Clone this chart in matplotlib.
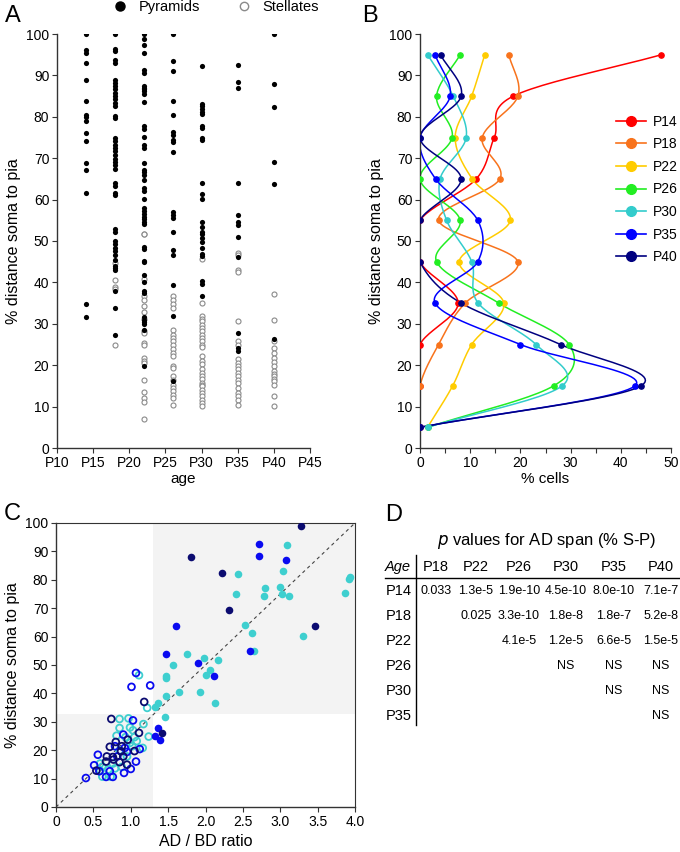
import numpy as np
import matplotlib
matplotlib.use("Agg")
import matplotlib.pyplot as plt
from matplotlib.lines import Line2D

plt.rcParams['font.family'] = ['Liberation Sans', 'DejaVu Sans']

# ---------------- Panel A data: soma depth (% distance soma to pia) by age
ages = [14, 18, 22, 26, 30, 35, 40]
pyr = {
    14: [100, 96.2, 95.4, 93, 89, 83.8, 80.5, 80, 79.1, 76, 74.2, 68.8, 67.1, 61.7, 34.9, 31.6],
    18: [100, 96.4, 96, 93.6, 93, 89, 88.2, 87.4, 86.6, 85.8, 85, 84.2, 83.4, 82.6, 80.3, 79.7,
         75, 74.2, 73.3, 72.5, 71.7, 70.8, 69.9, 69.1, 68.3, 67.5, 64, 63.3, 61.5, 61, 53, 52.2,
         50, 49.2, 48.4, 47.6, 46.5, 45.3, 44, 43.5, 43, 37.9, 33.7, 27.4],
    22: [100, 98.8, 97.4, 95.4, 91.2, 90.5, 87.5, 87, 86.6, 86.3, 85.5, 83.6, 77.7, 77, 75.2,
         73.3, 72.5, 68.9, 67.1, 66.6, 66, 64.7, 62.7, 62, 60.2, 58, 57.2, 56.5, 55.8, 55.2,
         54.7, 54, 48.6, 48.1, 45.2, 45, 41.7, 40.1, 37.9, 37.5, 31.7, 31, 30.4, 29.9, 28.6, 19.8],
    26: [100, 93.4, 91, 83.7, 80.5, 76.3, 75.6, 74.4, 73.9, 71.4, 57, 56.4, 55.6, 52.2, 47.8,
         46.5, 39.3, 32, 16.3],
    30: [92.3, 83.2, 82.5, 81.9, 81.1, 80.6, 77.8, 77.2, 75, 74.3, 64, 61.3, 60.1, 54.7, 53.5,
         52.2, 51.6, 50.7, 49.8, 48.4, 46.8, 46.4, 40.3, 39.5, 36.7],
    35: [92.6, 88.3, 87, 64, 56.3, 54.7, 53.8, 50.9, 46.1, 27.8, 24.1, 23.4],
    40: [100, 88, 82.4, 69.2, 63.8, 26.4],
}
stel = {
    14: [],
    18: [44.8, 40.5, 38.9, 38.3, 25],
    22: [51.7, 51.6, 40.9, 36.7, 35.7, 34.4, 32.8, 31.2, 28.2, 27.7, 25.4, 25, 21.8, 21.1,
         20.6, 16.4, 13.5, 12.1, 11.1, 6.9],
    26: [36.7, 35.7, 34.9, 33.9, 28.6, 27.2, 26.6, 25.8, 25, 23.8, 23, 22.2, 19.8, 19.4, 17.3,
         16.5, 15.3, 14.5, 13.7, 12.9, 12.1, 10.5],
    30: [45.6, 35.1, 32, 31.2, 30.6, 29.8, 29, 28.2, 27.4, 26.6, 25.8, 25, 24.4, 22.2, 21,
         20.2, 19, 18.2, 17.4, 16.6, 15.8, 15.3, 14.9, 14.1, 13.3, 12.5, 11.7, 10.9, 10.1],
    35: [47, 46.5, 43, 42.5, 30.6, 25.8, 25, 21.5, 20.6, 19.8, 19, 18.1, 17.3, 16.5, 15.7,
         14.5, 13.3, 12.5, 11.7, 10.5],
    40: [37.1, 31, 25.8, 24.2, 23, 21.8, 20.7, 19.8, 18.5, 17.9, 17.3, 16.7, 16.1, 15.1, 12.5, 10.2],
}

# ---------------- Panel B data: % cells per depth bin
bins = [5, 15, 25, 35, 45, 55, 65, 75, 85, 95]
b_labels = ['P14', 'P18', 'P22', 'P26', 'P30', 'P35', 'P40']
b_colors = ['#ff0000', '#f8731c', '#ffcc00', '#22ee22', '#33cccc', '#0000ff', '#000080']
pct = {
    'P14': [0, 0, 0, 7.6, 0, 0, 11.2, 14.8, 18.6, 48.1],
    'P18': [0, 0, 3.7, 9.0, 19.5, 3.7, 15.9, 12.4, 19.5, 17.7],
    'P22': [1.5, 6.5, 10.3, 16.7, 7.8, 18.0, 10.4, 7.0, 10.3, 12.9],
    'P26': [1.5, 26.6, 29.7, 15.7, 3.3, 8.0, 0, 6.4, 3.3, 8.0],
    'P30': [1.5, 28.3, 23.1, 11.6, 10.3, 5.3, 4.0, 9.2, 6.6, 1.5],
    'P35': [0, 42.8, 20.0, 3.0, 11.5, 11.5, 3.1, 0, 6.0, 3.0],
    'P40': [0, 44.0, 28.0, 8.2, 0, 0, 8.2, 0, 8.2, 4.1],
}

# ---------------- Panel C data: AD/BD ratio vs depth (filled = pyramids, open = stellates)
c_colors = {'P30': '#3ecfcf', 'P35': '#0a0af0', 'P40': '#0b0b70'}
c_filled = {
    'P30': ([3.09, 3.04, 2.44, 2.41, 2.80, 2.78, 3.00, 3.02, 3.12, 3.93, 3.92, 3.86, 2.53, 2.62,
             3.31, 2.65, 1.75, 1.56, 1.98, 2.17, 2.06, 2.01, 1.47, 1.47, 1.64, 1.92, 1.47, 2.13,
             1.36, 1.33, 1.46],
            [92.3, 83.2, 82.0, 75.0, 77.2, 74.2, 77.3, 75.0, 74.2, 81.0, 80.2, 75.2, 64.0, 61.2,
             60.3, 55.0, 54.0, 49.9, 52.3, 51.6, 48.4, 46.6, 46.0, 45.5, 40.4, 40.4, 39.2, 36.6,
             36.6, 35.2, 31.8]),
    'P35': ([2.71, 2.72, 3.08, 1.61, 1.47, 1.90, 2.12, 2.60, 1.37, 1.32, 1.39],
            [92.7, 88.3, 87.0, 63.8, 53.8, 50.8, 46.1, 54.8, 27.7, 25.1, 23.5]),
    'P40': ([3.28, 1.80, 2.22, 2.32, 3.46, 1.42],
            [99.1, 88.0, 82.4, 69.2, 63.8, 26.1]),
}
c_open = {
    'P30': ([1.11, 1.22, 0.85, 0.97, 0.85, 0.99, 1.17, 1.03, 0.81, 0.93, 1.05, 1.24, 1.16, 0.99,
             1.08, 0.85, 0.95, 0.62, 0.59, 0.70, 0.79, 0.73, 0.62, 1.02, 0.88, 0.76, 0.59],
            [46.4, 34.9, 31.0, 31.2, 27.8, 28.0, 29.2, 27.0, 25.1, 24.6, 24.6, 24.8, 20.8, 22.6,
             23.2, 19.9, 17.8, 14.2, 12.8, 13.2, 13.6, 10.7, 10.7, 21.4, 14.1, 15.3, 15.3]),
    'P35': ([1.07, 1.01, 1.26, 1.03, 0.90, 0.79, 0.92, 1.12, 0.56, 1.07, 0.51, 0.40, 0.58, 0.91,
             1.00, 0.67, 0.76, 0.72, 0.82, 0.95],
            [47.2, 42.3, 42.8, 30.5, 25.5, 21.4, 20.8, 20.4, 18.4, 16.0, 14.7, 10.2, 12.6, 12.0,
             13.4, 10.6, 10.6, 12.6, 17.8, 19.4]),
    'P40': ([1.18, 0.74, 1.11, 0.80, 0.96, 0.88, 1.05, 0.68, 0.76, 0.67, 0.77, 0.90, 0.85, 0.95,
             0.54, 0.87, 0.72],
            [37.0, 31.0, 26.1, 22.9, 23.7, 21.4, 19.7, 17.8, 17.6, 16.0, 16.7, 17.8, 15.8, 14.9,
             12.8, 19.6, 21.2]),
}

# ---------------- Panel D data: p values table
d_cols = ['P18', 'P22', 'P26', 'P30', 'P35', 'P40']
d_rows = ['P14', 'P18', 'P22', 'P26', 'P30', 'P35']
d_vals = [
    ['0.033', '1.3e-5', '1.9e-10', '4.5e-10', '8.0e-10', '7.1e-7'],
    ['', '0.025', '3.3e-10', '1.8e-8', '1.8e-7', '5.2e-8'],
    ['', '', '4.1e-5', '1.2e-5', '6.6e-5', '1.5e-5'],
    ['', '', '', 'NS', 'NS', 'NS'],
    ['', '', '', '', 'NS', 'NS'],
    ['', '', '', '', '', 'NS'],
]


def catmull_rom(xs, ys, n=24):
    # smooth curve through the points (only used to draw the line)
    p = np.column_stack([xs, ys]).astype(float)
    p = np.vstack([2 * p[0] - p[1], p, 2 * p[-1] - p[-2]])
    out = []
    t = np.linspace(0, 1, n)[:, None]
    for i in range(1, len(p) - 2):
        p0, p1, p2, p3 = p[i - 1], p[i], p[i + 1], p[i + 2]
        seg = 0.5 * ((2 * p1) + (-p0 + p2) * t + (2 * p0 - 5 * p1 + 4 * p2 - p3) * t ** 2
                     + (-p0 + 3 * p1 - 3 * p2 + p3) * t ** 3)
        out.append(seg)
    out = np.vstack(out)
    return out[:, 0], out[:, 1]


def style_axis(ax):
    for s in ['left', 'bottom']:
        ax.spines[s].set_color('#333333')
        ax.spines[s].set_linewidth(1.0)
    ax.tick_params(direction='out', length=3.5, width=0.8, color='#333333',
                   labelsize=10, pad=2)


W, H = 680, 852
fig = plt.figure(figsize=(W / 100, H / 100), dpi=100)


def box(l, t, r, b):
    return [l / W, 1 - b / H, (r - l) / W, (b - t) / H]


# ---------------- A
axA = fig.add_axes(box(57, 34, 310, 448))
for a in ages:
    if pyr[a]:
        axA.scatter([a] * len(pyr[a]), pyr[a], s=14, color='black', zorder=3, linewidths=0)
    if stel[a]:
        axA.scatter([a] * len(stel[a]), stel[a], s=13, facecolors='white',
                    edgecolors='#8a8a8a', linewidths=0.8, zorder=2)
axA.set_xlim(10, 45)
axA.set_ylim(0, 100)
axA.set_xticks(range(10, 50, 5))
axA.set_xticklabels(['P%d' % v for v in range(10, 50, 5)])
axA.set_yticks(range(0, 101, 10))
axA.spines['top'].set_visible(False)
axA.spines['right'].set_visible(False)
style_axis(axA)
axA.set_xlabel('age', fontsize=11, labelpad=2)
axA.set_ylabel('% distance soma to pia', fontsize=11.5, labelpad=4)

legA = [Line2D([], [], marker='o', ls='', color='black', markersize=6.5, label='Pyramids'),
        Line2D([], [], marker='o', ls='', markerfacecolor='white', markeredgecolor='#8a8a8a',
               markeredgewidth=1, markersize=6, label='Stellates')]
fig.legend(handles=legA, loc='center', bbox_to_anchor=(212 / W, 1 - 7 / H), ncol=2,
           frameon=False, fontsize=10.5, handletextpad=0.3, columnspacing=2.0, borderaxespad=0)

# ---------------- B
axB = fig.add_axes(box(420, 34, 671, 448))
for lab, col in zip(b_labels, b_colors):
    cx, cy = catmull_rom(pct[lab], bins)
    axB.plot(cx, cy, color=col, lw=1.1, zorder=2)
    axB.plot(pct[lab], bins, 'o', color=col, markersize=3.8, zorder=3)
axB.set_xlim(0, 50)
axB.set_ylim(0, 100)
axB.set_xticks(range(0, 51, 10))
axB.set_xticks(range(5, 50, 10), minor=True)
axB.set_yticks(range(0, 101, 10))
axB.spines['top'].set_visible(False)
axB.spines['right'].set_visible(False)
style_axis(axB)
axB.tick_params(which='minor', direction='out', length=3.5, width=0.8, color='#333333')
axB.set_xlabel('% cells', fontsize=11, labelpad=2)
axB.set_ylabel('% distance soma to pia', fontsize=11.5, labelpad=4)
legB = [Line2D([], [], color=c, lw=1.2, marker='o', markersize=7, label=l)
        for l, c in zip(b_labels, b_colors)]
axB.legend(handles=legB, loc='upper left', bbox_to_anchor=(610 / W, 1 - 109 / H),
           bbox_transform=fig.transFigure, frameon=False, fontsize=10, handlelength=2.2,
           handletextpad=0.5, labelspacing=0.62, borderaxespad=0)

# ---------------- C
axC = fig.add_axes(box(56, 523, 355, 807))
axC.fill_between([0, 1.3], 0, 32.7, color='#f3f3f3', lw=0, zorder=0)
axC.fill_between([1.3, 4.0], 32.7, 100, color='#f3f3f3', lw=0, zorder=0)
axC.plot([0, 4], [0, 100], ls=(0, (3, 3)), color='#444444', lw=0.8, zorder=1)
for k in ['P30', 'P35', 'P40']:
    ox, oy = c_open[k]
    axC.scatter(ox, oy, s=24, facecolors='none', edgecolors=c_colors[k], linewidths=1.3, zorder=2)
for k in ['P30', 'P35', 'P40']:
    fx, fy = c_filled[k]
    axC.scatter(fx, fy, s=30, color=c_colors[k], linewidths=0, zorder=3)
axC.set_xlim(0, 4)
axC.set_ylim(0, 100)
axC.set_xticks(np.arange(0, 4.01, 0.5))
axC.set_xticklabels(['0', '0.5', '1.0', '1.5', '2.0', '2.5', '3.0', '3.5', '4.0'])
axC.set_yticks(range(0, 101, 10))
for s in ['top', 'right']:
    axC.spines[s].set_color('#333333')
style_axis(axC)
axC.set_xlabel('AD / BD ratio', fontsize=11.5, labelpad=4)
axC.set_ylabel('% distance soma to pia', fontsize=11.5, labelpad=4)

# ---------------- D (table)
col_x = [436, 476, 519, 566, 614, 661]
row_y = [591, 616, 641, 666, 691, 716]
fig.text(547 / W, 1 - 541 / H, r'$\it{p}$' + ' values for AD span (% S-P)', ha='center',
         va='center', fontsize=12)
fig.text(398 / W, 1 - 567 / H, 'Age', ha='center', va='center', fontsize=10.5, style='italic')
for cx, c in zip(col_x, d_cols):
    fig.text(cx / W, 1 - 567 / H, c, ha='center', va='center', fontsize=10.5)
for ry, r, vals in zip(row_y, d_rows, d_vals):
    fig.text(399 / W, 1 - ry / H, r, ha='center', va='center', fontsize=10.5)
    for cx, v in zip(col_x, vals):
        if v:
            fig.text(cx / W, 1 - ry / H, v, ha='center', va='center', fontsize=9)
fig.add_artist(Line2D([385 / W, 680 / W], [1 - 578 / H, 1 - 578 / H], color='black', lw=1))
fig.add_artist(Line2D([416 / W, 416 / W], [1 - 555 / H, 1 - 725 / H], color='black', lw=1))

# panel letters
for lab, x, y in [('A', 5, 16), ('B', 362, 16), ('C', 4, 514), ('D', 385, 515)]:
    fig.text(x / W, 1 - y / H, lab, fontsize=17, ha='left', va='center')

fig.savefig('out.png', dpi=100)
